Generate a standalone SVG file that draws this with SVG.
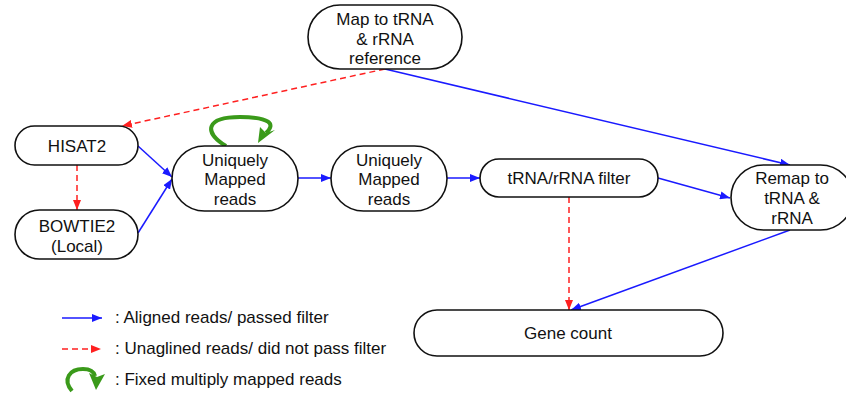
<svg xmlns="http://www.w3.org/2000/svg" width="846" height="396" viewBox="0 0 846 396">
<defs>
<marker id="ab" viewBox="0 0 10 8" refX="10" refY="4" markerWidth="10" markerHeight="8" markerUnits="userSpaceOnUse" orient="auto"><path d="M0,0 L10,4 L0,8 Z" fill="#1a1aff"/></marker>
<marker id="ar" viewBox="0 0 10 8" refX="10" refY="4" markerWidth="10" markerHeight="8" markerUnits="userSpaceOnUse" orient="auto"><path d="M0,0 L10,4 L0,8 Z" fill="#ff2020"/></marker>
</defs>
<style>
.n{fill:#fff;stroke:#111;stroke-width:1.6}
.t{font-family:"Liberation Sans",Arial,sans-serif;font-size:17px;fill:#111;text-anchor:middle}
.l{font-family:"Liberation Sans",Arial,sans-serif;font-size:17px;fill:#111}
.b{stroke:#1a1aff;stroke-width:1.5;fill:none;marker-end:url(#ab)}
.r{stroke:#ff2020;stroke-width:1.5;fill:none;stroke-dasharray:6 4;marker-end:url(#ar)}
.g{stroke:#3a9a1a;stroke-width:4;fill:none}
</style>
<rect width="846" height="396" fill="#fff"/>
<g id="connectors">
<path class="r" d="M385,69 L122,126"/>
<path class="b" d="M385,69 L790,165"/>
<path class="r" d="M77,165 L77,210"/>
<path class="b" d="M138,146 L172,177"/>
<path class="b" d="M138,233 L172,179"/>
<path class="b" d="M298,178 L331,178"/>
<path class="b" d="M447,178 L480,178"/>
<path class="b" d="M658,178 L730,198"/>
<path class="r" d="M569,197 L569,310"/>
<path class="b" d="M790,230 L571,310"/>
<path class="g" d="M226,146 C203,132 206,117 240,117 C270,117 276,124 266,133"/>
<polygon points="258,143 260,127 266,133 275,130" fill="#3a9a1a"/>
</g>
<g id="map">
<rect class="n" x="308" y="5" width="154" height="64" rx="32"/>
<text class="t" x="385" y="25">Map to tRNA</text>
<text class="t" x="385" y="45">&amp; rRNA</text>
<text class="t" x="385" y="64">reference</text>
</g>
<g id="hisat2">
<rect class="n" x="15" y="126" width="123" height="39" rx="19.5"/>
<text class="t" x="77" y="152">HISAT2</text>
</g>
<g id="bowtie2">
<rect class="n" x="15" y="210" width="123" height="49" rx="24.5"/>
<text class="t" x="77" y="232">BOWTIE2</text>
<text class="t" x="77" y="252">(Local)</text>
</g>
<g id="uniq1">
<rect class="n" x="172" y="146" width="126" height="65" rx="32.5"/>
<text class="t" x="235" y="166">Uniquely</text>
<text class="t" x="235" y="185">Mapped</text>
<text class="t" x="235" y="205">reads</text>
</g>
<g id="uniq2">
<rect class="n" x="331" y="146" width="116" height="65" rx="32.5"/>
<text class="t" x="389" y="166">Uniquely</text>
<text class="t" x="389" y="185">Mapped</text>
<text class="t" x="389" y="205">reads</text>
</g>
<g id="filter">
<rect class="n" x="480" y="159" width="178" height="38" rx="19"/>
<text class="t" x="569" y="184">tRNA/rRNA filter</text>
</g>
<g id="remap">
<rect class="n" x="731" y="165" width="122" height="65" rx="32.5"/>
<text class="t" x="792" y="184">Remap to</text>
<text class="t" x="792" y="204">tRNA &amp;</text>
<text class="t" x="792" y="224">rRNA</text>
</g>
<g id="genecount">
<rect class="n" x="414" y="310" width="309" height="46" rx="23"/>
<text class="t" x="568" y="339">Gene count</text>
</g>
<g id="legend">
<path class="b" d="M62,318 L102,318"/>
<text class="l" x="115" y="323">: Aligned reads/ passed filter</text>
<path class="r" d="M62,349 L101,349"/>
<text class="l" x="115" y="354">: Unaglined reads/ did not pass filter</text>
<path class="g" d="M72,391 C62,379 70,369 83,369 C90,369 94,372 95,376"/>
<polygon points="96,390 89,373 97,377 105,374" fill="#3a9a1a"/>
<text class="l" x="115" y="385">: Fixed multiply mapped reads</text>
</g>
</svg>
